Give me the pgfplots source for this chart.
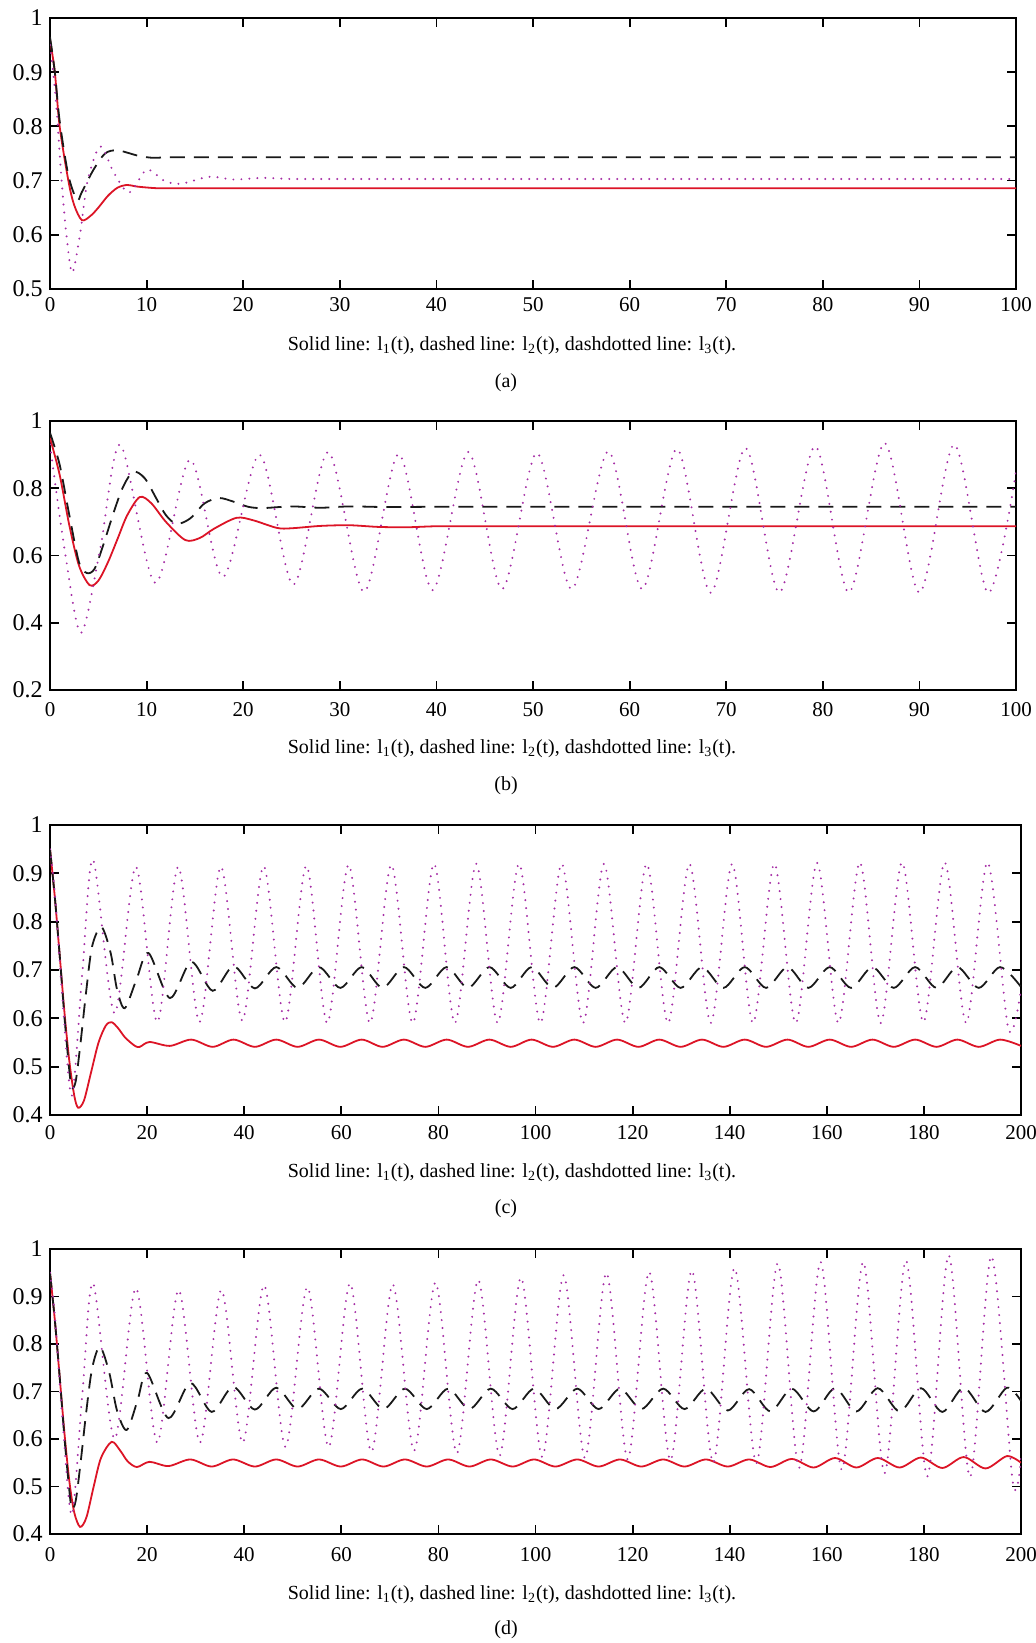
\documentclass[border=0pt]{standalone}
\usepackage{fontspec}
\setmainfont{Liberation Serif}
\usepackage{pgfplots}
\pgfplotsset{compat=1.18}

\definecolor{lone}{RGB}{220,20,38}
\definecolor{ltwo}{RGB}{25,25,25}
\definecolor{lthree}{RGB}{165,45,165}

\pgfplotsset{
  panel/.style={
    scale only axis, anchor=north west,
    axis line style={line width=0.9pt},
    every tick/.style={black, line width=0.9pt},
    major tick length=4.5pt, tick align=inside,
    xtick pos=both, ytick pos=both,
    xticklabel style={font=\fontsize{10.5}{12.5}\selectfont, inner sep=0pt},
    yticklabel style={font=\fontsize{12}{14}\selectfont, inner sep=0pt, xshift=-3.5pt},
    /pgf/number format/assume math mode=true,
    /pgf/number format/fixed,
  },
  lone/.style={color=lone, line width=0.9pt, smooth},
  ltwo/.style={color=ltwo, line width=0.9pt, dash pattern=on 7.5pt off 4.5pt, smooth},
  lthree/.style={color=lthree, line width=1.1pt, line cap=round, dash pattern=on 0pt off 4pt, smooth},
}
\tikzset{capt/.style={anchor=base, font=\fontsize{10}{12}\selectfont}}

\newcommand{\legendline}{Solid line: l\textsubscript{1}(t), dashed line: l\textsubscript{2}(t), dashdotted line: l\textsubscript{3}(t).}

\begin{document}
\begin{tikzpicture}
\useasboundingbox (0,0) rectangle (517.5pt,-821.5pt);

% ---------------- (a) ----------------
\begin{axis}[panel, at={(25pt,-9pt)}, width=483pt, height=135.5pt,
  xmin=0, xmax=100, ymin=0.5, ymax=1,
  xtick={0,10,20,30,40,50,60,70,80,90,100},
  ytick={0.5,0.6,0.7,0.8,0.9,1},
  xticklabel style={yshift=-4pt}]
\addplot[lone] coordinates {
(0,0.96)(0.5,0.9)(1,0.80)(1.9,0.70)(2.5,0.655)(3.3,0.627)(4.2,0.635)(5,0.65)
(6,0.672)(7,0.687)(8,0.692)(9,0.689)(11,0.686)(13,0.686)(16,0.686)(20,0.686)
(25,0.686)(30,0.686)(40,0.686)(50,0.686)(60,0.686)(70,0.686)(80,0.686)
(90,0.686)(100,0.686)};
\addplot[ltwo] coordinates {
(0,0.965)(0.5,0.90)(1,0.81)(1.9,0.71)(2.8,0.664)(3.3,0.679)(4.5,0.72)(5.7,0.75)
(6.9,0.756)(8.3,0.75)(9.3,0.745)(10.7,0.742)(12,0.743)(14,0.743)(17,0.743)
(21,0.743)(26,0.743)(32,0.743)(40,0.743)(50,0.743)(60,0.743)(70,0.743)
(80,0.743)(90,0.743)(100,0.743)};
\addplot[lthree] coordinates {
(0,0.95)(0.6,0.85)(1.2,0.70)(1.7,0.60)(2.3,0.53)(3.1,0.60)(3.9,0.70)(5.2,0.763)
(6.6,0.715)(8.2,0.678)(10,0.72)(11.8,0.70)(13.5,0.694)(16.5,0.707)(19,0.702)
(22,0.705)(25,0.703)(29,0.703)(34,0.703)(40,0.703)(50,0.703)(60,0.703)
(70,0.703)(80,0.703)(90,0.703)(100,0.703)};
\end{axis}
\node[capt] at (256pt,-175pt) {\legendline};
\node[capt] at (253pt,-193.5pt) {(a)};

% ---------------- (b) ----------------
\begin{axis}[panel, at={(25pt,-210.5pt)}, width=483pt, height=134.5pt,
  xmin=0, xmax=100, ymin=0.2, ymax=1,
  xtick={0,10,20,30,40,50,60,70,80,90,100},
  ytick={0.2,0.4,0.6,0.8,1},
  xticklabel style={yshift=-6pt}]
\addplot[lone] coordinates {
(0,0.95)(1,0.84)(2,0.69)(3,0.57)(4.1,0.512)(5,0.525)(6,0.58)(7,0.65)(8,0.72)
(9.3,0.774)(10.5,0.755)(12,0.70)(14,0.646)(15.5,0.652)(17,0.68)(19.3,0.712)
(21,0.705)(23.5,0.682)(25,0.681)(28,0.688)(31,0.69)(34,0.685)(37,0.684)
(40,0.687)(44,0.687)(50,0.687)(60,0.687)(70,0.687)(80,0.687)(90,0.687)(100,0.687)};
\addplot[ltwo] coordinates {
(0,0.965)(1,0.87)(2,0.72)(3,0.58)(3.8,0.548)(4.6,0.56)(5.5,0.63)(6.5,0.72)
(7.5,0.80)(8.6,0.849)(9.8,0.83)(11,0.77)(12,0.72)(13.1,0.694)(14.5,0.71)
(16,0.755)(17.5,0.771)(19,0.76)(20.5,0.745)(22,0.741)(25,0.746)(28,0.742)
(31,0.746)(35,0.744)(40,0.745)(46,0.745)(53,0.745)(60,0.745)(70,0.745)
(80,0.745)(90,0.745)(100,0.745)};
\addplot[lthree] coordinates {
(0,0.93)(1.5,0.62)(3.2,0.37)(5.2,0.62)(7.3,0.929)(10.9,0.518)(14.5,0.885)
(17.9,0.536)(21.7,0.90)(25.2,0.513)(28.8,0.908)(32.5,0.492)(36.1,0.902)
(39.6,0.497)(43.3,0.908)(46.8,0.50)(50.4,0.905)(54.0,0.50)(57.8,0.91)
(61.3,0.50)(64.9,0.917)(68.4,0.489)(72.0,0.92)(75.5,0.49)(79.2,0.925)
(82.7,0.49)(86.4,0.935)(90.0,0.489)(93.6,0.93)(97.1,0.489)(100,0.85)};
\end{axis}
\node[capt] at (256pt,-376.5pt) {\legendline};
\node[capt] at (253pt,-395pt) {(b)};

% ---------------- (c) ----------------
\begin{axis}[panel, at={(25pt,-412.5pt)}, width=485.5pt, height=145pt,
  xmin=0, xmax=200, ymin=0.4, ymax=1,
  xtick={0,20,40,60,80,100,120,140,160,180,200},
  ytick={0.4,0.5,0.6,0.7,0.8,0.9,1},
  xticklabel style={yshift=-5pt}]
\addplot[lone] coordinates {
(0,0.95)(1,0.85)(2,0.73)(3,0.61)(4,0.51)(5,0.44)(5.8,0.415)(7,0.43)(8.5,0.49)
(10,0.55)(11.5,0.585)(12.7,0.592)(14,0.58)(15.5,0.56)(17.5,0.543)(18.5,0.541)
(20.5,0.551)(24.7,0.543)(29.1,0.556)(33.5,0.541)(37.8,0.556)(42.2,0.541)
(46.6,0.556)(51.0,0.541)(55.4,0.556)(59.8,0.541)(64.2,0.556)(68.5,0.541)
(72.9,0.556)(77.3,0.541)(81.7,0.556)(86.1,0.541)(90.5,0.556)(94.9,0.541)
(99.2,0.556)(103.6,0.541)(108.0,0.556)(112.4,0.541)(116.8,0.556)(121.2,0.541)
(125.5,0.556)(129.9,0.541)(134.3,0.556)(138.7,0.541)(143.1,0.556)(147.5,0.541)
(151.9,0.556)(156.2,0.541)(160.6,0.556)(165.0,0.541)(169.4,0.556)(173.8,0.541)
(178.2,0.556)(182.6,0.541)(186.9,0.556)(191.3,0.541)(195.7,0.556)(200,0.543)};
\addplot[ltwo] coordinates {
(0,0.95)(1,0.85)(2,0.73)(3,0.60)(4,0.49)(4.5,0.456)(5.3,0.47)(6.3,0.55)
(7.5,0.66)(8.7,0.75)(10.6,0.789)(12.5,0.735)(13.8,0.66)(15.4,0.621)(17.8,0.68)
(20.3,0.735)(24.7,0.642)(29.1,0.717)(33.5,0.657)(37.8,0.708)(42.2,0.662)
(46.6,0.706)(51.0,0.663)(55.4,0.706)(59.8,0.663)(64.2,0.706)(68.5,0.663)
(72.9,0.706)(77.3,0.663)(81.7,0.706)(86.1,0.663)(90.5,0.706)(94.9,0.663)
(99.2,0.706)(103.6,0.663)(108.0,0.706)(112.4,0.663)(116.8,0.706)(121.2,0.663)
(125.5,0.706)(129.9,0.663)(134.3,0.706)(138.7,0.663)(143.1,0.706)(147.5,0.663)
(151.9,0.706)(156.2,0.663)(160.6,0.706)(165.0,0.663)(169.4,0.706)(173.8,0.663)
(178.2,0.706)(182.6,0.663)(186.9,0.706)(191.3,0.663)(195.7,0.706)(200,0.665)};
\addplot[lthree] coordinates {
(0,0.95)(1,0.86)(2.5,0.65)(4.5,0.44)(6.7,0.70)(8.9,0.928)(13.3,0.61)
(17.7,0.914)(22.1,0.592)(26.4,0.914)(30.8,0.592)(35.2,0.914)(39.6,0.595)
(44.0,0.915)(48.4,0.592)(52.8,0.916)(57.1,0.59)(61.5,0.918)(65.9,0.59)
(70.3,0.918)(74.7,0.59)(79.1,0.92)(83.4,0.59)(87.8,0.92)(92.2,0.59)
(96.6,0.92)(101.0,0.59)(105.4,0.92)(109.8,0.59)(114.1,0.92)(118.5,0.59)
(122.9,0.92)(127.3,0.59)(131.7,0.92)(136.1,0.59)(140.5,0.92)(144.8,0.59)
(149.2,0.92)(153.6,0.59)(158.0,0.922)(162.4,0.59)(166.8,0.923)(171.1,0.59)
(175.5,0.923)(179.9,0.592)(184.3,0.923)(188.7,0.59)(193.1,0.923)(197.4,0.578)(200,0.66)};
\end{axis}
\node[capt] at (256pt,-588.5pt) {\legendline};
\node[capt] at (253pt,-606.5pt) {(c)};

% ---------------- (d) ----------------
\begin{axis}[panel, at={(25pt,-624.5pt)}, width=485.5pt, height=142.5pt,
  xmin=0, xmax=200, ymin=0.4, ymax=1,
  xtick={0,20,40,60,80,100,120,140,160,180,200},
  ytick={0.4,0.5,0.6,0.7,0.8,0.9,1},
  xticklabel style={yshift=-6.5pt}]
\addplot[lone] coordinates {
(0,0.95)(1,0.85)(2,0.73)(3,0.61)(4,0.51)(5,0.445)(6.2,0.415)(7.5,0.435)(9,0.50)
(10.5,0.56)(12.7,0.594)(14.5,0.575)(16,0.553)(17.9,0.541)(20.5,0.552)
(24.4,0.543)(28.9,0.557)(33.3,0.542)(37.7,0.557)(42.2,0.542)(46.6,0.557)
(51.0,0.542)(55.4,0.557)(59.9,0.542)(64.3,0.557)(68.7,0.542)(73.1,0.557)
(77.6,0.542)(82.0,0.557)(86.4,0.542)(90.8,0.557)(95.3,0.542)(99.7,0.557)
(104.1,0.542)(108.6,0.557)(113.0,0.542)(117.4,0.557)(121.8,0.542)(126.3,0.557)
(130.7,0.542)(135.1,0.557)(139.6,0.542)(144.0,0.557)(148.4,0.541)(152.8,0.558)
(157.3,0.540)(161.7,0.560)(166.1,0.540)(170.5,0.560)(175.0,0.540)(179.4,0.561)
(183.8,0.539)(188.2,0.562)(192.7,0.538)(197.1,0.564)(200,0.55)};
\addplot[ltwo] coordinates {
(0,0.95)(1,0.85)(2,0.73)(3,0.60)(4,0.49)(4.5,0.453)(5.3,0.47)(6.3,0.55)
(7.5,0.66)(8.7,0.75)(10.3,0.794)(12.2,0.74)(13.8,0.66)(15.8,0.619)(18,0.68)
(20.0,0.739)(24.4,0.644)(28.9,0.718)(33.3,0.657)(37.7,0.71)(42.2,0.662)
(46.6,0.708)(51.0,0.663)(55.4,0.706)(59.9,0.663)(64.3,0.706)(68.7,0.663)
(73.1,0.706)(77.6,0.663)(82.0,0.706)(86.4,0.663)(90.8,0.706)(95.3,0.663)
(99.7,0.706)(104.1,0.663)(108.6,0.706)(113.0,0.663)(117.4,0.706)(121.8,0.663)
(126.3,0.706)(130.7,0.663)(135.1,0.706)(139.6,0.66)(144.0,0.705)(148.4,0.658)
(152.8,0.706)(157.3,0.658)(161.7,0.707)(166.1,0.658)(170.5,0.707)(175.0,0.658)
(179.4,0.707)(183.8,0.657)(188.2,0.708)(192.7,0.657)(197.1,0.708)(200,0.68)};
\addplot[lthree] coordinates {
(0,0.95)(1,0.86)(2.5,0.65)(4.5,0.44)(6.7,0.70)(8.9,0.928)(13.3,0.60)
(17.7,0.918)(22.1,0.592)(26.5,0.914)(30.9,0.592)(35.3,0.914)(39.7,0.592)
(44.1,0.924)(48.5,0.583)(53.0,0.92)(57.4,0.583)(61.8,0.928)(66.2,0.573)
(70.6,0.926)(75.0,0.575)(79.4,0.93)(83.8,0.57)(88.2,0.935)(92.6,0.565)
(97.0,0.94)(101.4,0.562)(105.8,0.945)(110.2,0.56)(114.6,0.95)(119.0,0.557)
(123.4,0.952)(127.8,0.555)(132.2,0.955)(136.6,0.55)(141.0,0.96)(145.5,0.549)
(149.9,0.97)(154.3,0.539)(158.7,0.973)(163.1,0.535)(167.5,0.973)(171.9,0.528)
(176.3,0.976)(180.7,0.521)(185.1,0.987)(189.5,0.52)(193.9,0.985)(198.3,0.51)(200,0.56)};
\end{axis}
\node[capt] at (256pt,-799.5pt) {\legendline};
\node[capt] at (253pt,-817pt) {(d)};

\end{tikzpicture}
\end{document}
